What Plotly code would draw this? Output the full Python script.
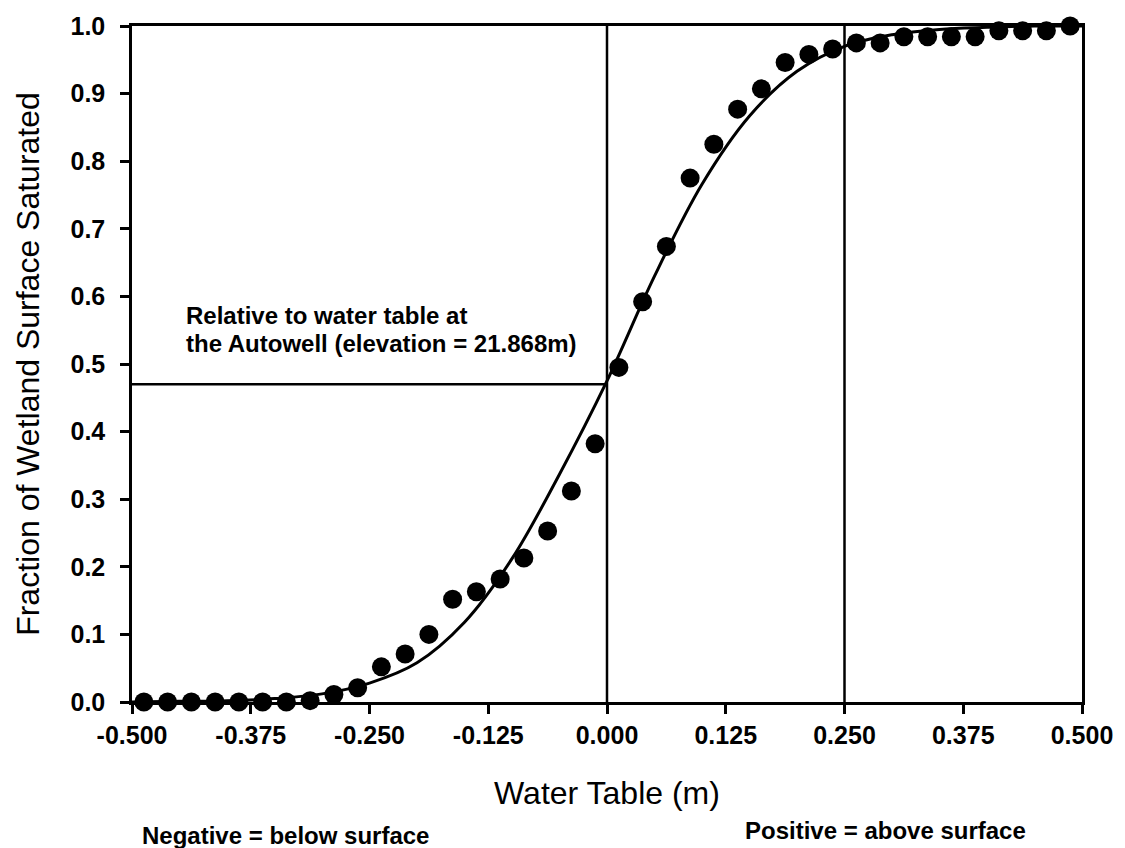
import plotly.graph_objects as go

# Observed saturated fraction, binned by water-table depth (0.025 m bins)
water_table = [-0.4875 + 0.025 * i for i in range(40)]
fraction_saturated = [
    0.000, 0.000, 0.000, 0.000, 0.000, 0.000, 0.000, 0.002,
    0.011, 0.021, 0.052, 0.071, 0.100, 0.152, 0.163, 0.182,
    0.213, 0.253, 0.312, 0.382, 0.495, 0.592, 0.674, 0.775,
    0.825, 0.877, 0.907, 0.946, 0.958, 0.966, 0.975, 0.975,
    0.984, 0.984, 0.984, 0.984, 0.993, 0.993, 0.993, 1.000,
]

# Fitted curve
fit_x = [-0.50, -0.45, -0.40, -0.35, -0.30, -0.25, -0.20, -0.15, -0.10, -0.05,
         0.00, 0.05, 0.10, 0.15, 0.20, 0.25, 0.30, 0.35, 0.40, 0.45, 0.50]
fit_y = [0.000, 0.001, 0.002, 0.005, 0.012, 0.028, 0.058, 0.118, 0.212, 0.337,
         0.475, 0.630, 0.766, 0.867, 0.933, 0.970, 0.987, 0.995, 0.998, 1.000, 1.000]

# Reference lines
vertical_marks = [0.0, 0.25]
autowell_level = 0.47

x_ticks = [-0.5, -0.375, -0.25, -0.125, 0.0, 0.125, 0.25, 0.375, 0.5]
x_tick_text = ["-0.500", "-0.375", "-0.250", "-0.125", "0.000",
               "0.125", "0.250", "0.375", "0.500"]
y_ticks = [0.0, 0.1, 0.2, 0.3, 0.4, 0.5, 0.6, 0.7, 0.8, 0.9, 1.0]

FONT = "Liberation Sans, Arial, sans-serif"

fig = go.Figure()

fig.add_trace(go.Scatter(
    x=fit_x, y=fit_y, mode="lines",
    line=dict(color="black", width=3, shape="spline", smoothing=1.0),
    hoverinfo="skip", showlegend=False,
))

fig.add_trace(go.Scatter(
    x=water_table, y=fraction_saturated, mode="markers",
    marker=dict(color="black", size=19, line=dict(width=0)),
    cliponaxis=False, showlegend=False,
))

for xv in vertical_marks:
    fig.add_shape(type="line", x0=xv, x1=xv, y0=0, y1=1, xref="x", yref="y",
                  line=dict(color="black", width=2.5), layer="below")
fig.add_shape(type="line", x0=-0.5, x1=0.0, y0=autowell_level, y1=autowell_level,
              xref="x", yref="y", line=dict(color="black", width=2.5), layer="below")

note_font = dict(family=FONT, size=24, color="black", weight="bold")
fig.add_annotation(
    x=-0.445, y=0.572, xref="x", yref="y", xanchor="left", yanchor="middle",
    showarrow=False, text="Relative to water table at", font=note_font,
)
fig.add_annotation(
    x=-0.445, y=0.530, xref="x", yref="y", xanchor="left", yanchor="middle",
    showarrow=False, text="the Autowell (elevation = 21.868m)", font=note_font,
)

fig.add_annotation(
    x=0.162, y=-0.197, xref="paper", yref="paper", xanchor="center", yanchor="middle",
    showarrow=False, text="Negative = below surface", font=note_font,
)
fig.add_annotation(
    x=0.793, y=-0.19, xref="paper", yref="paper", xanchor="center", yanchor="middle",
    showarrow=False, text="Positive = above surface", font=note_font,
)

fig.update_layout(
    width=1125, height=848,
    margin=dict(l=132, r=37, t=26, b=146),
    paper_bgcolor="white", plot_bgcolor="white",
    font=dict(family=FONT, color="black"),
    showlegend=False,
)

fig.update_xaxes(
    range=[-0.5, 0.5], tickvals=x_ticks, ticktext=x_tick_text,
    showgrid=False, zeroline=False,
    showline=True, mirror=True, linecolor="black", linewidth=2.5,
    ticks="outside", ticklen=9, tickwidth=2.5, tickcolor="black",
    tickfont=dict(family=FONT, size=25, color="black", weight="bold"),
    title=dict(text="Water Table (m)", font=dict(family=FONT, size=32, color="black"),
               standoff=34),
    layer="below traces",
)
fig.update_yaxes(
    range=[0, 1.0], tickvals=y_ticks, tickformat=".1f",
    showgrid=False, zeroline=False,
    showline=True, mirror=True, linecolor="black", linewidth=2.5,
    ticks="outside", ticklen=9, tickwidth=2.5, tickcolor="black",
    tickfont=dict(family=FONT, size=25, color="black", weight="bold"),
    ticklabelstandoff=10,
    title=dict(text="Fraction of Wetland Surface Saturated",
               font=dict(family=FONT, size=32, color="black"), standoff=22),
    layer="below traces",
)

fig.write_html("out.html")
